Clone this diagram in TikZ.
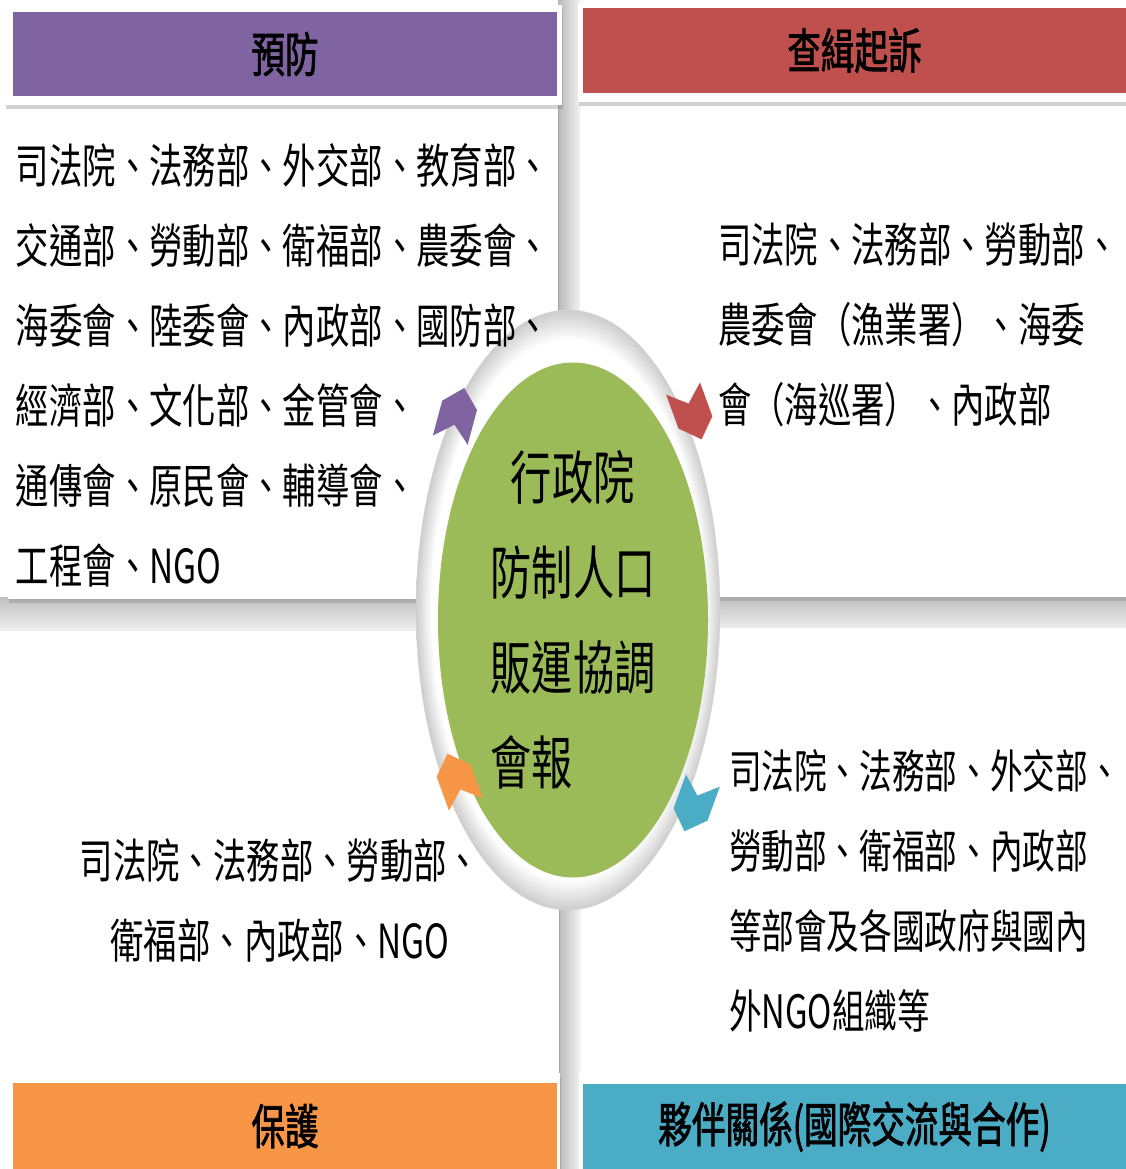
\documentclass[tikz,border=0pt]{standalone}
\usepackage{fontspec}
\usetikzlibrary{shapes.geometric, shadows, positioning, calc}
\newfontfamily\kai[FakeStretch=0.71]{Noto Sans CJK TC}
\newfontfamily\kaibold[FakeStretch=0.7, FakeBold=1.5]{Noto Sans CJK TC}
\definecolor{prevPurple}{HTML}{8064A2}
\definecolor{lawRed}{HTML}{C0504D}
\definecolor{protOrange}{HTML}{F79646}
\definecolor{partBlue}{HTML}{4BACC6}
\definecolor{hubGreen}{HTML}{9BBB59}
\pgfdeclareradialshading{ringshade}{\pgfpoint{0bp}{0bp}}{color(0bp)=(white); color(22.5bp)=(white); color(25bp)=(gray!40); color(50bp)=(gray!40)}
\tikzset{
    base/.style={inner sep=0pt, outer sep=0pt},
    card/.style={base, rectangle, fill=white, anchor=north west,
        drop shadow={shadow xshift=1pt, shadow yshift=-4pt, opacity=0.35, fill=gray}},
    banner/.style={base, rectangle, anchor=north west, font=\kaibold\fontsize{48}{50}\selectfont},
    bodytext/.style={base, align=left, anchor=west, font=\kai\fontsize{47}{80}\selectfont},
    hub/.style={base, ellipse, fill=hubGreen, align=left, font=\kai\fontsize{58}{95}\selectfont},
    ring/.style={base, ellipse, shading=ringshade, draw=gray!30}
}

\begin{document}
\begin{tikzpicture}[x=1pt, y=-1pt]
    \useasboundingbox (0,0) rectangle (1126,1169);
    % gaps between the four panels
    \shade [left color=gray!55, right color=gray!8] (558,0) rectangle (581,1169);
    \shade [top color=gray!50, bottom color=gray!12] (0,597) rectangle (1126,630);

    % panel bodies
    \node [card, minimum width=550, minimum height=499] (tlBody) at (8,100) {};
    \node [card, minimum width=546, minimum height=499] (trBody) at (580,98) {};
    \node [card, minimum width=549, minimum height=537] (blBody) at (10,632) {};
    \node [card, minimum width=545, minimum height=541] (brBody) at (581,628) {};

    % header cards
    \node [card, minimum width=557, minimum height=100] (tlCard) at (5,5) {};
    \node [card, minimum width=548, minimum height=99] (trCard) at (578,3) {};
    \node [card, minimum width=552, minimum height=96] (blCard) at (8,1073) {};
    \node [card, minimum width=547, minimum height=96] (brCard) at (579,1073) {};

    \node [banner, fill=prevPurple, minimum width=544, minimum height=84] (prevHead) at (13,12) {預防};
    \node [banner, fill=lawRed, minimum width=543, minimum height=85] (lawHead) at (583,8) {查緝起訴};
    \node [banner, fill=protOrange, minimum width=544, minimum height=86] (protHead) at (13,1083) {保護};
    \node [banner, fill=partBlue, minimum width=543, minimum height=85] (partHead) at (583,1084) {夥伴關係(國際交流與合作)};

    % centre
    \node [ring, minimum width=304, minimum height=600] (ring) at (568,610) {};
    \node [hub, minimum width=270, minimum height=515] (hub) at (573,620)
        {\hspace*{0.35em}行政院\\防制人口\\販運協調\\會報};

    \foreach \px/\py/\ang/\col in {457/415/75/prevPurple, 692/413/-70/lawRed,
                                   694/805/-110/partBlue, 457/780/110/protOrange}
        \fill [\col, shift={(\px,\py)}, rotate=\ang]
            (-26,-18) -- (10,-18) -- (28,0) -- (10,18) -- (-26,18) -- (-10,0) -- cycle;

    % panel texts
    \node [bodytext] (prevText) at (16,365)
        {司法院、法務部、外交部、教育部、\\交通部、勞動部、衛福部、農委會、\\海委會、陸委會、內政部、國防部、\\經濟部、文化部、金管會、\\通傳會、原民會、輔導會、\\工程會、NGO};
    \node [bodytext] (lawText) at (718,325)
        {司法院、法務部、勞動部、\\農委會（漁業署）、海委\\會（海巡署）、內政部};
    \node [bodytext, align=center, anchor=center] (protText) at (280,900)
        {司法院、法務部、勞動部、\\衛福部、內政部、NGO};
    \node [bodytext, font=\kai\fontsize{46}{80}\selectfont] (partText) at (729,891)
        {司法院、法務部、外交部、\\勞動部、衛福部、內政部\\等部會及各國政府與國內\\外NGO組織等};
\end{tikzpicture}
\end{document}
